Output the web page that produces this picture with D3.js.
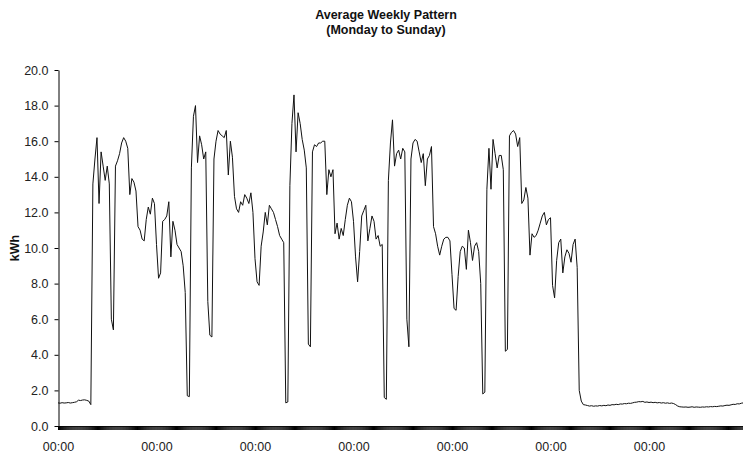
<!DOCTYPE html>
<html>
<head>
<meta charset="utf-8">
<script src="https://cdn.jsdelivr.net/npm/d3@7"></script>
<style>
  body { margin: 0; background: #fff; }
  svg { display: block; }
  text { font-family: "Liberation Sans", Arial, sans-serif; }
</style>
</head>
<body>
<svg id="chart" width="743" height="456"></svg>
<script>
// Half-hourly average kWh, Monday 00:00 to Sunday 23:30 (48 values per day)
const monday = [
  1.30,1.28,1.31,1.29,1.30,1.32,1.29,1.31,1.33,1.36,
  1.45,1.43,1.46,1.47,1.44,1.40,1.20,13.6,15.0,16.2,
  12.5,15.4,14.6,13.8,14.6,13.6,6.0,5.4,14.6,14.9,
  15.3,15.9,16.2,16.0,15.6,13.0,13.9,13.7,13.2,11.2,
  11.0,10.5,10.4,11.6,12.3,11.9,12.8,12.5
];
const tuesday = [
  10.2,8.3,8.6,11.5,11.6,11.8,12.6,9.5,11.5,11.0,
  10.2,10.0,9.8,9.0,7.5,1.7,1.65,14.5,17.4,18.0,
  14.8,16.3,15.8,15.0,15.4,7.0,5.1,5.0,15.0,16.0,
  16.6,16.4,16.3,16.2,16.6,14.1,16.0,15.1,12.9,12.2,
  12.0,12.6,12.4,13.0,12.8,12.5,13.1,12.0
];
const wednesday = [
  9.4,8.1,7.9,10.1,10.9,12.0,11.3,12.4,12.2,12.0,
  11.6,11.2,10.7,10.5,10.3,1.3,1.35,13.5,17.0,18.6,
  15.4,17.6,17.0,16.1,15.5,14.5,4.6,4.45,15.4,15.8,
  15.7,15.9,15.9,16.0,16.0,13.0,14.4,14.0,14.4,10.8,
  11.4,10.5,11.1,10.7,11.6,12.4,12.8,12.6
];
const thursday = [
  11.5,9.5,8.1,9.8,11.8,12.1,12.4,10.4,11.1,11.8,
  11.5,10.5,10.7,10.1,10.2,1.6,1.5,13.8,15.9,17.2,
  14.6,15.3,15.5,15.0,15.6,15.4,6.0,4.45,15.0,15.9,
  16.1,16.0,15.4,14.8,15.3,13.5,15.0,15.2,15.7,11.2,
  10.8,10.1,9.6,10.1,10.5,10.6,10.6,10.4
];
const friday = [
  8.5,6.6,6.5,8.4,9.8,10.1,10.0,8.8,11.0,10.3,
  9.3,10.1,10.3,9.8,8.0,1.8,1.9,13.3,15.6,13.3,
  16.1,15.3,14.5,15.2,15.2,14.4,4.2,4.3,16.3,16.5,
  16.6,16.4,15.7,16.2,12.5,12.7,13.4,12.8,9.6,10.8,
  10.6,10.7,11.0,11.4,11.8,12.0,11.3,11.6
];
const saturday = [
  11.7,7.9,7.2,9.3,10.3,10.5,8.6,9.5,9.9,9.7,
  9.2,10.2,10.5,8.9,2.0,1.4,1.2,1.18,1.15,1.12,
  1.14,1.11,1.13,1.12,1.15,1.13,1.16,1.14,1.18,1.16,
  1.20,1.19,1.22,1.20,1.24,1.23,1.26,1.25,1.28,1.27,
  1.30,1.33,1.34,1.37,1.36,1.38,1.33,1.35
];
const sunday = [
  1.32,1.34,1.31,1.33,1.30,1.32,1.29,1.31,1.28,1.30,
  1.27,1.29,1.26,1.20,1.12,1.08,1.07,1.06,1.07,1.05,
  1.06,1.08,1.05,1.07,1.06,1.05,1.07,1.06,1.08,1.07,
  1.09,1.08,1.10,1.09,1.11,1.13,1.12,1.15,1.17,1.16,
  1.19,1.22,1.21,1.25,1.24,1.28,1.30,1.32
];
const yTicks = [0, 2, 4, 6, 8, 10, 12, 14, 16, 18, 20];
const xLabels = ["00:00", "00:00", "00:00", "00:00", "00:00", "00:00", "00:00"];
const titleLines = ["Average Weekly Pattern", "(Monday to Sunday)"];
const yTitle = "kWh";

const series = [].concat(monday, tuesday, wednesday, thursday, friday, saturday, sunday);
const slotsPerDay = 48;
const totalSlots = slotsPerDay * 7;

const svg = d3.select("#chart");
const plotLeft = 58, plotRight = 747.5, plotTop = 70, plotBottom = 426;

const x = d3.scaleLinear().domain([0, totalSlots]).range([plotLeft, plotRight]);
const y = d3.scaleLinear().domain([0, 20]).range([plotBottom, plotTop]);

// Title
svg.append("text")
  .attr("x", 386).attr("y", 18.5)
  .attr("text-anchor", "middle")
  .attr("font-size", 12.5).attr("font-weight", "bold").attr("fill", "#111")
  .text(titleLines[0]);
svg.append("text")
  .attr("x", 386).attr("y", 33.5)
  .attr("text-anchor", "middle")
  .attr("font-size", 12.5).attr("font-weight", "bold").attr("fill", "#111")
  .text(titleLines[1]);

// Y axis
const yAxis = d3.axisLeft(y)
  .tickValues(yTicks)
  .tickFormat(d3.format(".1f"))
  .tickSize(4).tickSizeOuter(0).tickPadding(6);
const gy = svg.append("g").attr("transform", `translate(${plotLeft + 0.5},0)`).call(yAxis);
gy.selectAll("text").attr("font-size", 12.5).attr("fill", "#222").attr("font-family", "Liberation Sans, Arial, sans-serif");
gy.selectAll("line").attr("stroke", "#000");
gy.select(".domain").attr("stroke", "#000");

// X axis: dense 15-minute tick marks
const minorTicks = d3.range(0, totalSlots * 2 + 1).map(d => d / 2);
const xAxisMinor = d3.axisBottom(x)
  .tickValues(minorTicks)
  .tickFormat("")
  .tickSize(4).tickSizeOuter(0);
const gx = svg.append("g").attr("transform", `translate(0,${plotBottom})`).call(xAxisMinor);
gx.selectAll("line").attr("stroke", "#000");
gx.select(".domain").attr("stroke", "#444");

// X axis labels: one per day at 00:00
const dayStarts = xLabels.map((_, i) => i * slotsPerDay);
const xAxisLabels = d3.axisBottom(x)
  .tickValues(dayStarts)
  .tickFormat((d, i) => xLabels[i])
  .tickSize(0).tickPadding(16.5);
const gxl = svg.append("g").attr("transform", `translate(0,${plotBottom})`).call(xAxisLabels);
gxl.select(".domain").remove();
gxl.selectAll("text").attr("font-size", 12.5).attr("fill", "#222").attr("font-family", "Liberation Sans, Arial, sans-serif");

// Y axis title
svg.append("text")
  .attr("transform", `translate(19,${(plotTop + plotBottom) / 2}) rotate(-90)`)
  .attr("text-anchor", "middle")
  .attr("font-size", 12.5).attr("font-weight", "bold").attr("fill", "#111")
  .text(yTitle);

// Line
const line = d3.line()
  .x((d, i) => x(i))
  .y(d => y(d));
svg.append("path")
  .datum(series)
  .attr("fill", "none")
  .attr("stroke", "#111")
  .attr("stroke-width", 1)
  .attr("stroke-linejoin", "round")
  .attr("d", line);
</script>
</body>
</html>
